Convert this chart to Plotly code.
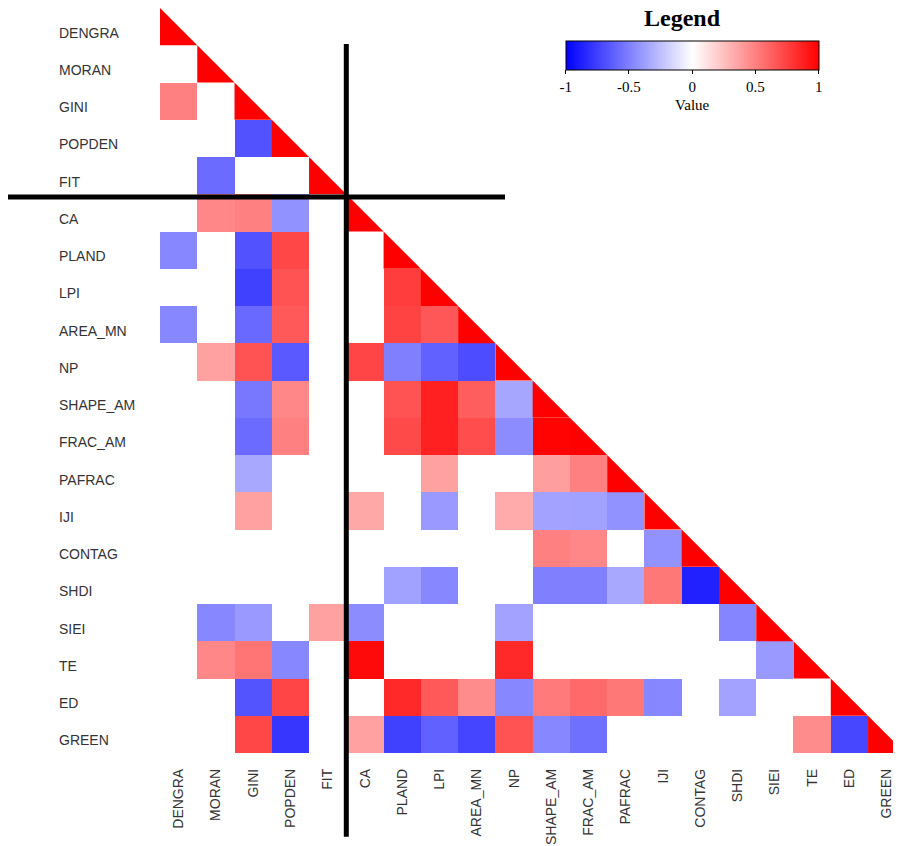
import plotly.graph_objects as go

# ---- data ----
variables = ["DENGRA", "MORAN", "GINI", "POPDEN", "FIT", "CA", "PLAND", "LPI",
             "AREA_MN", "NP", "SHAPE_AM", "FRAC_AM", "PAFRAC", "IJI", "CONTAG",
             "SHDI", "SIEI", "TE", "ED", "GREEN"]

# lower-triangle correlations, one list per row (values left of the diagonal); 0 = not shown
r_DENGRA = []
r_MORAN = [0]
r_GINI = [0.50, 0]
r_POPDEN = [0, 0, -0.68]
r_FIT = [0, -0.58, 0, 0]
r_CA = [0, 0.47, 0.50, -0.43, 0]
r_PLAND = [-0.47, 0, -0.68, 0.72, 0, 0]
r_LPI = [0, 0, -0.75, 0.68, 0, 0, 0.76]
r_AREA_MN = [-0.47, 0, -0.59, 0.65, 0, 0, 0.74, 0.66]
r_NP = [0, 0.37, 0.68, -0.65, 0, 0.73, -0.50, -0.62, -0.70]
r_SHAPE_AM = [0, 0, -0.53, 0.47, 0, 0, 0.68, 0.87, 0.63, -0.35]
r_FRAC_AM = [0, 0, -0.58, 0.50, 0, 0, 0.71, 0.87, 0.70, -0.45, 0.99]
r_PAFRAC = [0, 0, -0.34, 0, 0, 0, 0, 0.37, 0, 0, 0.38, 0.50]
r_IJI = [0, 0, 0.37, 0, 0, 0.34, 0, -0.40, 0, 0.33, -0.36, -0.37, -0.43]
r_CONTAG = [0, 0, 0, 0, 0, 0, 0, 0, 0, 0, 0.50, 0.47, 0, -0.43]
r_SHDI = [0, 0, 0, 0, 0, 0, -0.37, -0.47, 0, 0, -0.50, -0.50, -0.34, 0.53, -0.87]
r_SIEI = [0, -0.47, -0.40, 0, 0.37, -0.45, 0, 0, 0, -0.36, 0, 0, 0, 0, 0, -0.48]
r_TE = [0, 0.47, 0.54, -0.47, 0, 0.96, 0, 0, 0, 0.84, 0, 0, 0, 0, 0, 0, -0.40]
r_ED = [0, 0, -0.67, 0.73, 0, 0, 0.84, 0.65, 0.45, -0.47, 0.52, 0.59, 0.53, -0.47, 0, -0.36, 0, 0]
r_GREEN = [0, 0, 0.72, -0.79, 0, 0.37, -0.75, -0.62, -0.73, 0.68, -0.47, -0.56, 0, 0, 0, 0, 0, 0.45, -0.72]

rows = [r_DENGRA, r_MORAN, r_GINI, r_POPDEN, r_FIT, r_CA, r_PLAND, r_LPI, r_AREA_MN,
        r_NP, r_SHAPE_AM, r_FRAC_AM, r_PAFRAC, r_IJI, r_CONTAG, r_SHDI, r_SIEI,
        r_TE, r_ED, r_GREEN]
colorbar_ticks = [-1, -0.5, 0, 0.5, 1]
colorbar_ticktext = ["-1", "-0.5", "0", "0.5", "1"]

n = len(variables)
z = []
for i in range(n):
    row = []
    for j in range(n):
        if j < i:
            v = rows[i][j]
            row.append(v if v != 0 else None)
        else:
            row.append(None)
    z.append(row)

# ---- geometry (page offset of 8px from the default body margin) ----
OFF = 8
W, H = 901 - OFF, 846 - OFF
PLOT_BOTTOM_PAGE = 753.3
TOP = 0
BOTTOM = H - (PLOT_BOTTOM_PAGE - OFF)
LEFT = 160 - OFF
cell = (H - TOP - BOTTOM) / n
x_max = -0.5 + (W - LEFT) / cell


def px_x(p):
    return (p - OFF) / W


def px_y(p):
    return (H - BOTTOM - (p - OFF)) / (H - TOP - BOTTOM)


fig = go.Figure()

fig.add_trace(go.Heatmap(
    z=z, x=list(range(n)), y=list(range(n)),
    zmin=-1, zmax=1,
    colorscale=[[0, "rgb(0,0,255)"], [0.5, "rgb(255,255,255)"], [1, "rgb(255,0,0)"]],
    hoverongaps=False,
    colorbar=dict(
        orientation="h",
        xref="container", yref="container",
        x=(565.7 - OFF) / W, xanchor="left",
        y=1 - (40.7 - OFF) / H, yanchor="top",
        len=253, lenmode="pixels",
        thickness=29, thicknessmode="pixels",
        xpad=0, ypad=0,
        outlinecolor="black", outlinewidth=1,
        tickvals=colorbar_ticks, ticktext=colorbar_ticktext,
        ticks="outside", ticklen=4, tickcolor="black", tickwidth=1,
        tickfont=dict(family="Liberation Serif, Times New Roman, serif", size=15, color="black"),
        title=dict(text="Value", side="bottom",
                   font=dict(family="Liberation Serif, Times New Roman, serif", size=15, color="black")),
    ),
))

# diagonal: red lower-left triangles
tx, ty = [], []
for i in range(n):
    tx += [i - 0.5, i - 0.5, i + 0.5, i - 0.5, None]
    ty += [i - 0.5, i + 0.5, i + 0.5, i - 0.5, None]
fig.add_trace(go.Scatter(x=tx, y=ty, mode="lines", fill="toself",
                         fillcolor="#ff0000", line=dict(width=0, color="#ff0000"),
                         hoverinfo="skip", showlegend=False))

# black separator lines
fig.add_shape(type="line", xref="paper", yref="paper",
              x0=px_x(7.5), x1=px_x(505), y0=px_y(197), y1=px_y(197),
              line=dict(color="black", width=5), layer="above")
fig.add_shape(type="line", xref="paper", yref="paper",
              x0=px_x(346.3), x1=px_x(346.3), y0=px_y(44), y1=px_y(837),
              line=dict(color="black", width=5), layer="above")

fig.add_annotation(text="<b>Legend</b>", xref="paper", yref="paper",
                   x=px_x(682.7), y=px_y(18), xanchor="center", yanchor="middle",
                   showarrow=False,
                   font=dict(family="Liberation Serif, Times New Roman, serif", size=24, color="black"))

label_font = dict(family="Liberation Sans, Arial, sans-serif", size=14, color="#333333")

fig.update_layout(
    width=W, height=H,
    margin=dict(l=0, r=0, t=TOP, b=BOTTOM, pad=0, autoexpand=False),
    plot_bgcolor="white", paper_bgcolor="white",
    showlegend=False,
    xaxis=dict(domain=[LEFT / W, 1], range=[-0.5, x_max],
               tickvals=list(range(n)), ticktext=variables, tickangle=-90,
               showgrid=False, zeroline=False, showline=False, ticks="",
               ticklabelstandoff=12, tickfont=label_font, fixedrange=True),
    yaxis=dict(range=[n - 0.5, -0.5], tickvals=list(range(n)), ticktext=variables,
               side="right", anchor="free", position=50 / W,
               showgrid=False, zeroline=False, showline=False, ticks="",
               ticklabelshift=-6, ticklabelstandoff=0,
               tickfont=label_font, fixedrange=True),
)

fig.write_html("out.html")
